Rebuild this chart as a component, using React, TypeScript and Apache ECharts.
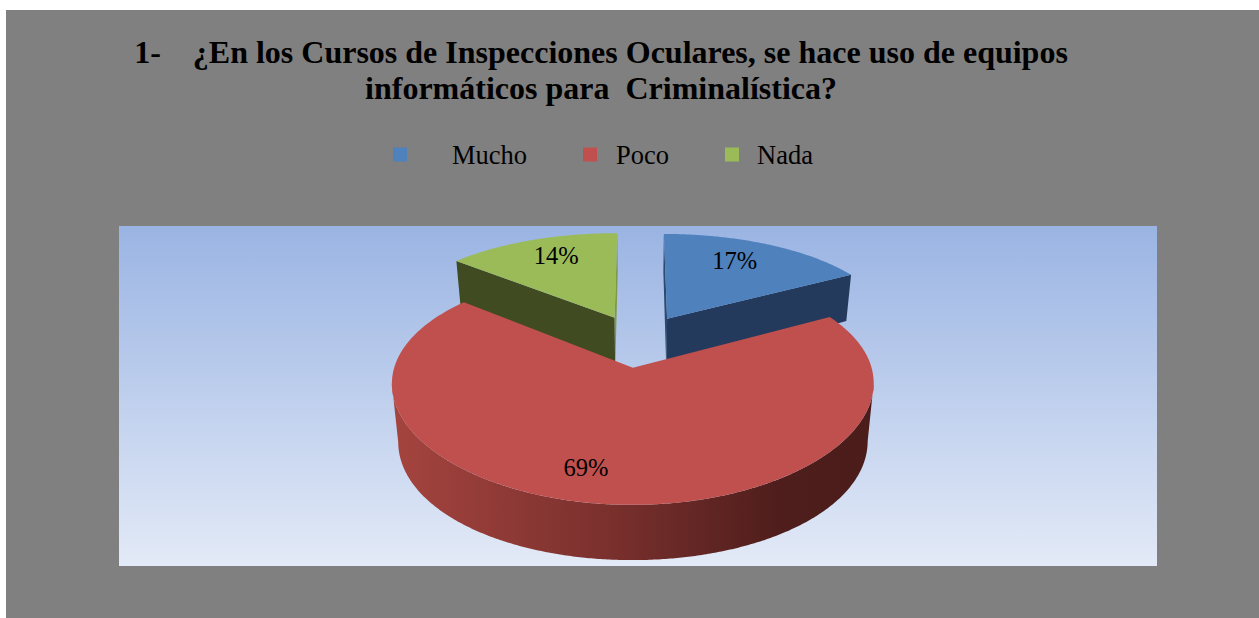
import React, { useEffect, useRef } from "react";
import * as echarts from "echarts";

// ---- data ----
const categories = ["Mucho", "Poco", "Nada"];
const values = [17, 69, 14];
const titleLines = [
  "1-    ¿En los Cursos de Inspecciones Oculares, se hace uso de equipos",
  "informáticos para  Criminalística?",
];

// ---- styles ----
const FONT = '"Liberation Serif", "Times New Roman", serif';
const topColors = ["#4f81bd", "#c0504d", "#9bbb59"];
const startFaceColors = ["#2c4a70", "#7a302d", "#404b21"];
const endFaceColors = ["#243a5c", "#7a302d", "#7f9a45"];
const legendLefts = [393, 583, 725];
const legendTextGaps = [40, 14, 13];
const labelRadii = [0.74, 0.78, 0.76];
const labelAngleShift = [-3.6, 7.5, 2.5];

// projection of the tilted pie plane on to the page
const CX = 638.5;
const CY = 340.6;
const A = 231;
const B = 105;
const KX = 0.13;
const KY = 0.1615;
const EXPLODE = 0.25;
const LOW_WX = 0.025;
const LOW_CY = 396;
const LOW_B = 115;
const LOW_K = 0.1;

const rad = (d: number) => (d * Math.PI) / 180;
function project(u: number, v: number, low: boolean): number[] {
  if (low) {
    return [CX + (A * u) / (1 + KX * v + LOW_WX), LOW_CY - (LOW_B * v) / (1 + LOW_K * v)];
  }
  return [CX + (A * u) / (1 + KX * v), CY - (B * v) / (1 + KY * v)];
}

const total = values.reduce((a, b) => a + b, 0);
const spans = values.map((v) => (v / total) * 360);
const starts = spans.map((_, i) => spans.slice(0, i).reduce((a, b) => a + b, 0));

function makeRenderItem(i: number) {
  return () => {
    const s = starts[i];
    const e = s + spans[i];
    const m = rad(s + spans[i] / 2);
    const ox = EXPLODE * Math.sin(m);
    const oy = EXPLODE * Math.cos(m);
    const at = (deg: number, r: number, low: boolean) =>
      project(ox + r * Math.sin(rad(deg)), oy + r * Math.cos(rad(deg)), low);
    const arc = (from: number, to: number, low: boolean) => {
      const pts: number[][] = [];
      const n = Math.ceil(Math.abs(to - from) * 2);
      for (let k = 0; k <= n; k++) pts.push(at(from + ((to - from) * k) / n, 1, low));
      return pts;
    };
    const face = (deg: number, fill: string) => ({
      type: "polygon",
      shape: { points: [at(deg, 0, false), at(deg, 1, false), at(deg, 1, true), at(deg, 0, true)] },
      style: { fill },
    });
    // the front wall runs between the points where each rim is widest
    const extreme = (low: boolean, sign: number) => {
      let best = s;
      for (let d = s; d <= e; d += 0.25) {
        if (sign * at(d, 1, low)[0] > sign * at(best, 1, low)[0]) best = d;
      }
      return best;
    };
    const children: any[] = [];
    if (i === 1) {
      children.push({
        type: "polygon",
        shape: {
          points: [
            ...arc(extreme(false, 1), extreme(false, -1), false),
            ...arc(extreme(true, -1), extreme(true, 1), true),
          ],
        },
        style: {
          fill: new echarts.graphic.LinearGradient(0, 0, 1, 0, [
            { offset: 0, color: "#a5443f" },
            { offset: 0.45, color: "#7a302d" },
            { offset: 0.8, color: "#4f1e1c" },
            { offset: 1, color: "#4a1c1a" },
          ]),
        },
      });
    } else {
      children.push(face(s, startFaceColors[i]));
      children.push(face(e, endFaceColors[i]));
    }
    children.push({
      type: "polygon",
      shape: { points: [at(s, 0, false), ...arc(s, e, false)] },
      style: { fill: topColors[i] },
    });
    const p = at(s + spans[i] / 2 + labelAngleShift[i], labelRadii[i], false);
    children.push({
      type: "text",
      x: p[0],
      y: p[1],
      style: {
        text: `${values[i]}%`,
        fill: "#000",
        font: `24.5px ${FONT}`,
        textAlign: "center",
        textVerticalAlign: "middle",
      },
    });
    return { type: "group", children };
  };
}

export default function App() {
  const ref = useRef<HTMLDivElement>(null);
  useEffect(() => {
    const chart = echarts.init(ref.current!, undefined, { renderer: "svg" });
    chart.setOption({
      animation: false,
      backgroundColor: "#ffffff",
      title: {
        text: titleLines.join("\n"),
        left: 596,
        top: 29,
        textAlign: "center",
        textStyle: {
          fontFamily: FONT,
          fontWeight: "bold",
          fontSize: 32,
          lineHeight: 36,
          color: "#000",
        },
      },
      legend: categories.map((name, i) => ({
        data: [name],
        left: legendLefts[i],
        top: 141,
        padding: 0,
        itemWidth: 14,
        itemHeight: 14,
        icon: "rect",
        selectedMode: false,
        textStyle: {
          fontFamily: FONT,
          fontSize: 26.5,
          color: "#000",
          padding: [0, 0, 0, legendTextGaps[i]],
        },
      })),
      graphic: [
        {
          type: "rect",
          z: -10,
          shape: { x: 6, y: 10, width: 1253, height: 608 },
          style: { fill: "#808080" },
        },
        {
          type: "rect",
          z: -9,
          shape: { x: 119, y: 226, width: 1038, height: 340 },
          style: {
            fill: new echarts.graphic.LinearGradient(0, 0, 0, 1, [
              { offset: 0, color: "#9ab4e3" },
              { offset: 1, color: "#e3eaf7" },
            ]),
          },
        },
      ],
      series: categories.map((name, i) => ({
        type: "custom",
        name,
        coordinateSystem: "none",
        z: i === 1 ? 5 : 3,
        itemStyle: { color: topColors[i] },
        data: [{ name, value: values[i] }],
        renderItem: makeRenderItem(i),
      })),
    });
    return () => chart.dispose();
  }, []);
  return (
    <div
      ref={ref}
      style={{ position: "fixed", left: 0, top: 0, width: 1259, height: 618 }}
    />
  );
}
